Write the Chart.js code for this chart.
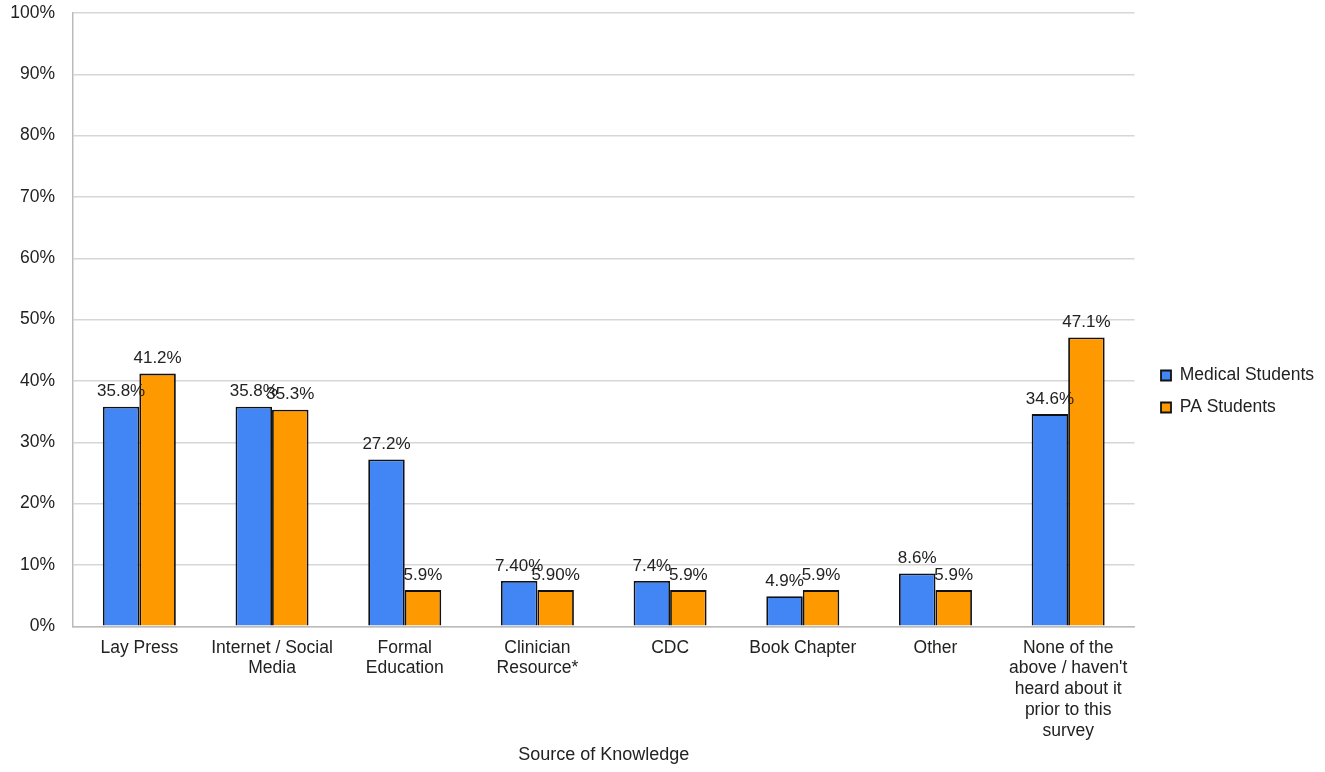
<!DOCTYPE html>
<html>
<head>
<meta charset="utf-8">
<script src="https://cdn.jsdelivr.net/npm/chart.js@4.4.1/dist/chart.umd.min.js"></script>
<style>
  body { margin: 0; background: #fff; }
  #wrap { width: 1325px; height: 772px; position: relative; }
</style>
</head>
<body>
<div id="wrap"><canvas id="barChart"></canvas></div>
<script>
const categories = [
    'Lay Press',
    ['Internet / Social', 'Media'],
    ['Formal', 'Education'],
    ['Clinician', 'Resource*'],
    'CDC',
    'Book Chapter',
    'Other',
    ['None of the', "above / haven't", 'heard about it', 'prior to this', 'survey']
];
const medicalValues = [35.8, 35.8, 27.2, 7.4, 7.4, 4.9, 8.6, 34.6];
const paValues = [41.2, 35.3, 5.9, 5.9, 5.9, 5.9, 5.9, 47.1];
const medicalLabels = ['35.8%', '35.8%', '27.2%', '7.40%', '7.4%', '4.9%', '8.6%', '34.6%'];
const paLabels = ['41.2%', '35.3%', '5.9%', '5.90%', '5.9%', '5.9%', '5.9%', '47.1%'];
const yTicks = [0, 10, 20, 30, 40, 50, 60, 70, 80, 90, 100];

const FONT = "'Liberation Sans', Arial, sans-serif";
const valueLabels = [medicalLabels, paLabels];

// draws the % text above each bar
const barLabels = {
    id: 'barLabels',
    afterLayout(chart) {
        // push the legend a bit further from the plot
        if (chart.legend) {
            chart.legend.left += 12;
            chart.legend.right += 12;
            chart.legend.top += 2;
            chart.legend.bottom += 2;
        }
    },
    afterDatasetsDraw(chart) {
        const ctx = chart.ctx;
        ctx.save();
        ctx.font = '17px ' + FONT;
        ctx.fillStyle = '#222';
        ctx.textAlign = 'center';
        ctx.textBaseline = 'middle';
        chart.data.datasets.forEach((ds, i) => {
            chart.getDatasetMeta(i).data.forEach((bar, j) => {
                ctx.fillText(valueLabels[i][j], bar.x, bar.y - 15);
            });
        });
        ctx.restore();
    }
};

const ctx = document.getElementById('barChart').getContext('2d');
const chart = new Chart(ctx, {
    type: 'bar',
    data: {
        labels: categories,
        datasets: [{
            label: 'Medical Students',
            data: medicalValues,
            backgroundColor: '#4285f4',
            borderColor: '#111',
            borderWidth: 1.8,
            categoryPercentage: 0.55,
            barPercentage: 1.0
        }, {
            label: 'PA Students',
            data: paValues,
            backgroundColor: '#ff9900',
            borderColor: '#111',
            borderWidth: 1.8,
            categoryPercentage: 0.55,
            barPercentage: 1.0
        }]
    },
    options: {
        responsive: true,
        maintainAspectRatio: false,
        animation: false,
        layout: { padding: { top: 13, left: 0, right: 13, bottom: 6 } },
        plugins: {
            legend: {
                position: 'right',
                labels: {
                    boxWidth: 10,
                    boxHeight: 10,
                    padding: 14.5,
                    color: '#222',
                    font: { family: FONT, size: 17.5 }
                }
            },
            tooltip: { enabled: false }
        },
        scales: {
            x: {
                grid: { display: false, drawTicks: false },
                border: { color: '#bbb', width: 1.5 },
                ticks: {
                    color: '#222',
                    padding: 11,
                    maxRotation: 0,
                    autoSkip: false,
                    font: { family: FONT, size: 17.5, lineHeight: 1.19 }
                },
                title: {
                    display: true,
                    text: 'Source of Knowledge',
                    color: '#222',
                    padding: { top: -8, bottom: 0 },
                    font: { family: FONT, size: 18 }
                }
            },
            y: {
                min: 0,
                max: 100,
                afterBuildTicks(axis) {
                    axis.ticks = yTicks.map(v => ({ value: v }));
                },
                afterFit(axis) {
                    axis.width = 73;
                    axis.paddingTop = 0;
                },
                grid: { color: '#d6d6d6', lineWidth: 1.5, drawTicks: false },
                border: { color: '#bbb', width: 1.5 },
                ticks: {
                    color: '#222',
                    padding: 18,
                    font: { family: FONT, size: 17.5 },
                    callback: v => v + '%'
                }
            }
        }
    },
    plugins: [barLabels]
});
</script>
</body>
</html>
